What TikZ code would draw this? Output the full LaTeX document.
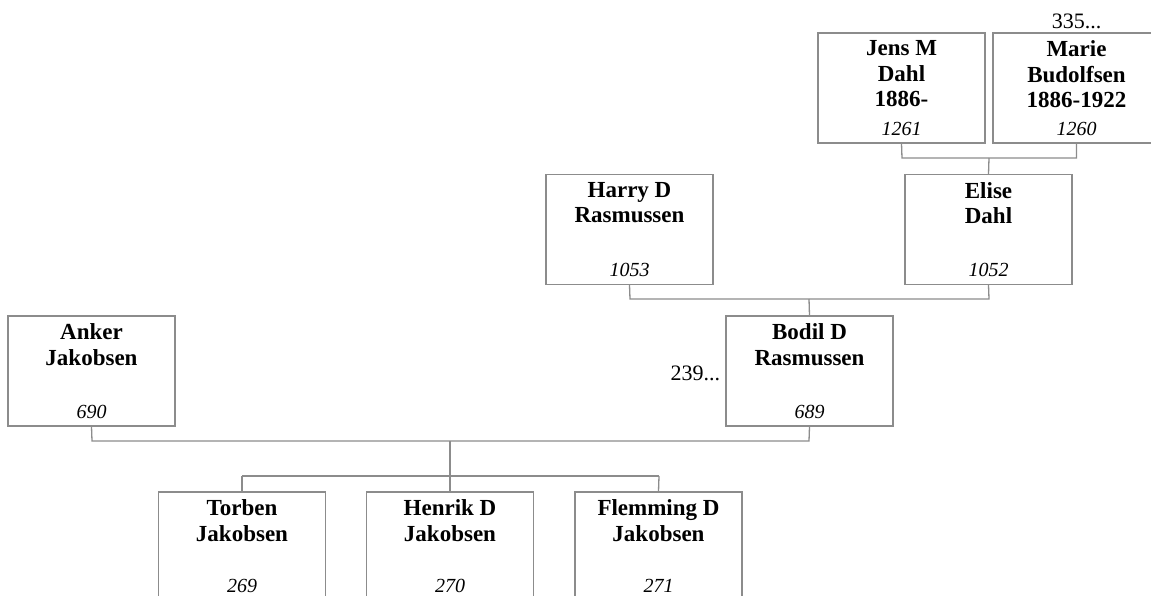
\documentclass[tikz,border=0pt]{standalone}
\usepackage{fontspec}
\setmainfont{Liberation Serif}
\definecolor{edge}{HTML}{8C8C8C}
\tikzset{
  person/.style={draw=edge, line width=1.3pt, minimum width=167pt, minimum height=110pt, inner sep=0pt, fill=white},
  pname/.style={anchor=north, inner sep=0pt, align=center, font=\bfseries\fontsize{23}{25.5}\selectfont},
  pnum/.style={anchor=base, inner sep=0pt, font=\itshape\fontsize{20}{24}\selectfont},
  more/.style={inner sep=0pt, font=\fontsize{22}{26}\selectfont},
  link/.style={draw=edge, line width=1.3pt}
}
\newcommand{\person}[5]{%
  \node[person] (#1) at (#2) {};
  \node[pname] (#1n) at ([yshift=-8pt]#1.north) {#3};
  \node[pnum] (#1i) at ([yshift=#5]#1.south) {#4};
}
\begin{document}
\begin{tikzpicture}[x=1pt,y=-1pt]
\useasboundingbox (0,0) rectangle (1151,596);
\clip (0,0) rectangle (1151,596);
% junction points of the connectors
\coordinate (jm1) at (902,158);
\coordinate (jm2) at (1076.5,158);
\coordinate (jmc) at (989,158);
\coordinate (he1) at (630,299);
\coordinate (he2) at (989,299);
\coordinate (hec) at (809,299);
\coordinate (ab1) at (92,441);
\coordinate (ab2) at (809,441);
\coordinate (abc) at (450,441);
\coordinate (ch0) at (450,476);
\coordinate (ch1) at (242,476);
\coordinate (ch3) at (659,476);

\person{jens}{901.5,88}{Jens M\\Dahl\\1886-}{1261}{8.5pt}
\person{marie}{1076.5,88}{Marie\\Budolfsen\\1886-1922}{1260}{8.5pt}
\person{harry}{629.5,229.5}{Harry D\\Rasmussen}{1053}{8.5pt}
\person{elise}{988.5,229.5}{Elise\\Dahl}{1052}{8.5pt}
\person{anker}{91.5,371}{Anker\\Jakobsen}{690}{8.5pt}
\person{bodil}{809.5,371}{Bodil D\\Rasmussen}{689}{8.5pt}
\person{torben}{242,547}{Torben\\Jakobsen}{269}{10.5pt}
\person{henrik}{450,547}{Henrik D\\Jakobsen}{270}{10.5pt}
\person{flemming}{658.5,547}{Flemming D\\Jakobsen}{271}{10.5pt}

\draw[link] (jens.south) -- (jm1) -- (jm2) -- (marie.south);
\draw[link] (jmc) -- (elise.north);
\draw[link] (harry.south) -- (he1) -- (he2) -- (elise.south);
\draw[link] (hec) -- (bodil.north);
\draw[link] (anker.south) -- (ab1) -- (ab2) -- (bodil.south);
\draw[link] (abc) -- (ch0);
\draw[link] (ch1) -- (ch3);
\draw[link] (ch1) -- (torben.north);
\draw[link] (ch0) -- (henrik.north);
\draw[link] (ch3) -- (flemming.north);

\node[more, anchor=base] (m335) at ([yshift=4pt]marie.north) {335...};
\node[more, anchor=base east] (m239) at ([xshift=-5pt,yshift=-9pt]bodil.west) {239...};
\end{tikzpicture}
\end{document}
